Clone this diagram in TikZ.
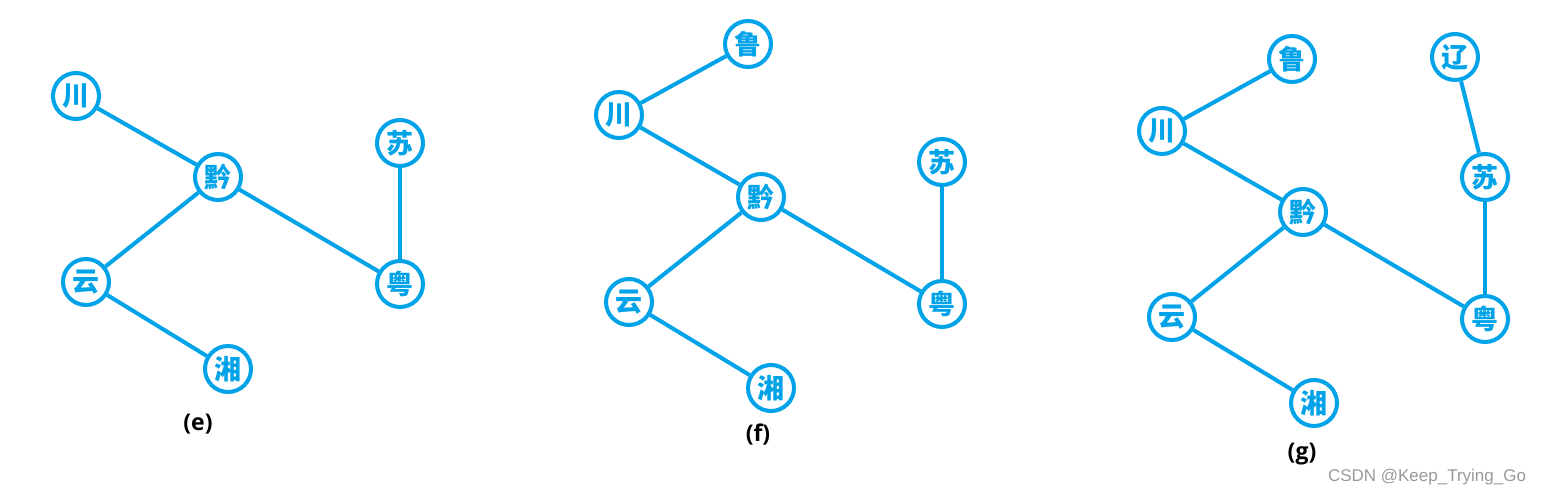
\documentclass[tikz,border=0pt]{standalone}
\usepackage{fontspec}
\usepackage{amsmath}
\usepackage{tikz}
\newfontfamily\cjk{Noto Sans CJK SC}
\newfontfamily\capfont{Open Sans}
\newfontfamily\markfont{Liberation Sans}
\definecolor{paintblue}{RGB}{0,162,232}
\newcommand{\ch}[1]{\raisebox{-4pt}{#1}}

\begin{document}
\begin{tikzpicture}[x=1pt, y=-1pt,
		city/.style={circle, draw=paintblue, line width=4pt, minimum size=46pt, inner sep=0pt, text=paintblue, font=\cjk\bfseries\fontsize{27}{27}\selectfont},
		road/.style={draw=paintblue, line width=4pt},
		caption/.style={font=\capfont\bfseries\fontsize{23}{23}\selectfont}]
			\useasboundingbox (0, 0) rectangle (1546, 497);
			\node[city] (e-chuan) at (76, 96) {\ch{川}};
			\node[city] (e-qian) at (218, 177) {\ch{黔}};
			\node[city] (e-su) at (400, 143) {\ch{苏}};
			\node[city] (e-yun) at (86, 282) {\ch{云}};
			\node[city] (e-yue) at (400, 284) {\ch{粤}};
			\node[city] (e-xiang) at (228, 369) {\ch{湘}};
			\node[caption] (e-cap) at (198, 424) {(e)};
			\draw[road] (e-chuan) -- (e-qian);
			\draw[road] (e-qian) -- (e-yun);
			\draw[road] (e-qian) -- (e-yue);
			\draw[road] (e-su) -- (e-yue);
			\draw[road] (e-yun) -- (e-xiang);
			\node[city] (f-lu) at (748, 44) {\ch{鲁}};
			\node[city] (f-chuan) at (619, 115) {\ch{川}};
			\node[city] (f-su) at (942, 162) {\ch{苏}};
			\node[city] (f-qian) at (761, 197) {\ch{黔}};
			\node[city] (f-yun) at (629, 302) {\ch{云}};
			\node[city] (f-yue) at (942, 304) {\ch{粤}};
			\node[city] (f-xiang) at (771, 388) {\ch{湘}};
			\node[caption] (f-cap) at (758, 435) {(f)};
			\draw[road] (f-lu) -- (f-chuan);
			\draw[road] (f-chuan) -- (f-qian);
			\draw[road] (f-qian) -- (f-yun);
			\draw[road] (f-qian) -- (f-yue);
			\draw[road] (f-su) -- (f-yue);
			\draw[road] (f-yun) -- (f-xiang);
			\node[city] (g-lu) at (1292, 59) {\ch{鲁}};
			\node[city] (g-liao) at (1455, 57) {\ch{辽}};
			\node[city] (g-chuan) at (1162, 131) {\ch{川}};
			\node[city] (g-su) at (1485, 177) {\ch{苏}};
			\node[city] (g-qian) at (1303, 212) {\ch{黔}};
			\node[city] (g-yun) at (1172, 317) {\ch{云}};
			\node[city] (g-yue) at (1485, 319) {\ch{粤}};
			\node[city] (g-xiang) at (1314, 403) {\ch{湘}};
			\node[caption] (g-cap) at (1302, 454) {(g)};
			\draw[road] (g-lu) -- (g-chuan);
			\draw[road] (g-liao) -- (g-su);
			\draw[road] (g-chuan) -- (g-qian);
			\draw[road] (g-qian) -- (g-yun);
			\draw[road] (g-qian) -- (g-yue);
			\draw[road] (g-su) -- (g-yue);
			\draw[road] (g-yun) -- (g-xiang);
			\node[font=\markfont\fontsize{17}{17}\selectfont, text=black!40] (mark) at (1427, 477) {CSDN @Keep\_Trying\_Go};
		\end{tikzpicture}
\end{document}
